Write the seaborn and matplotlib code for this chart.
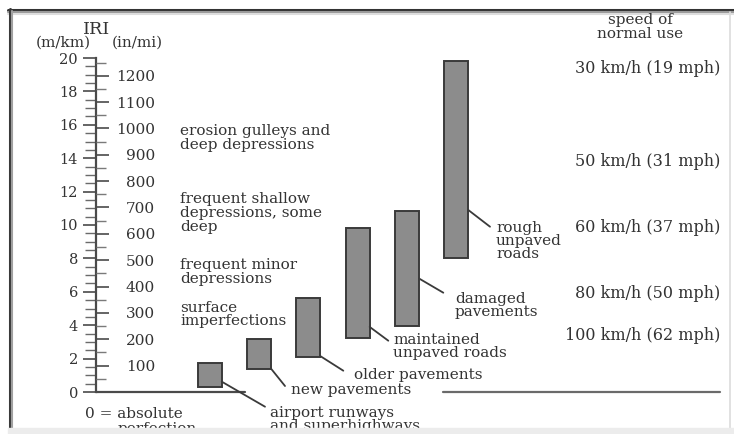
import numpy as np
import pandas as pd
import matplotlib
matplotlib.use("Agg")
import matplotlib.pyplot as plt
import matplotlib.transforms as mtransforms
from matplotlib.lines import Line2D
import seaborn as sns

# ---------------- data ----------------
surfaces = ["airport runways and superhighways", "new pavements", "older pavements",
            "maintained unpaved roads", "damaged pavements", "rough unpaved roads"]
iri_low = [0.3, 1.4, 2.1, 3.25, 3.95, 8.0]
iri_high = [1.75, 3.2, 5.65, 9.85, 10.85, 19.8]
surface_label_lines = [["airport runways", "and superhighways"], ["new pavements"],
                       ["older pavements"], ["maintained", "unpaved roads"],
                       ["damaged", "pavements"], ["rough", "unpaved", "roads"]]
mkm_major = list(range(0, 21, 2))
mkm_minor = list(np.arange(0, 20.01, 0.5))
inmi_major = list(range(100, 1201, 100))
inmi_minor = list(range(50, 1251, 100))
IN_MI_PER_M_KM = 63.36
condition_lines = [["erosion gulleys and", "deep depressions"],
                   ["frequent shallow", "depressions, some", "deep"],
                   ["frequent minor", "depressions"],
                   ["surface", "imperfections"]]
speed_labels = ["30 km/h (19 mph)", "50 km/h (31 mph)", "60 km/h (37 mph)",
                "80 km/h (50 mph)", "100 km/h (62 mph)"]
speed_iri = [19.4, 13.8, 9.85, 5.9, 3.4]

# ---------------- layout ----------------
W, H = 734, 434
TXT = "#333333"
FONT = "DejaVu Serif"
FS = 11

sns.set_style("white")
plt.rcParams["font.family"] = [FONT, "DejaVu Sans"]

fig = plt.figure(figsize=(W / 100, H / 100), dpi=100)
fig.patch.set_facecolor("white")

def fx(px):
    return px / W

def fy(py):
    return 1 - py / H

ax_l, ax_r, ax_t, ax_b = 96, 720, 58, 392
ax = fig.add_axes([fx(ax_l), fy(ax_b), (ax_r - ax_l) / W, (ax_b - ax_t) / H])
ax.set_facecolor("none")

df = pd.DataFrame({"surface": surfaces, "low": iri_low, "high": iri_high})
bw = 0.487
sns.barplot(data=df, x="surface", y="high", order=surfaces, color="#8c8c8c",
            saturation=1, width=bw, edgecolor="#3a3a3a", linewidth=1.4, ax=ax)
for patch, lo, hi in zip(ax.patches, iri_low, iri_high):
    patch.set_y(lo)
    patch.set_height(hi - lo)

ax.set_xlim(-2.306, 10.349)
ax.set_ylim(0, 20)
ax.set_xlabel("")
ax.set_ylabel("")
ax.set_xticks([])
for s in ["top", "right", "bottom"]:
    ax.spines[s].set_visible(False)
ax.spines["left"].set_color("#4a4a4a")
ax.spines["left"].set_linewidth(1.6)

# baseline with a gap
ax.axhline(0, xmin=0, xmax=(245 - ax_l) / (ax_r - ax_l), color="#4a4a4a", lw=1.6, clip_on=False)
ax.axhline(0, xmin=(443 - ax_l) / (ax_r - ax_l), xmax=1, color="#6a6a6a", lw=1.6, clip_on=False)

# m/km axis (left, outward ticks)
ax.set_yticks(mkm_major)
ax.set_yticks(mkm_minor, minor=True)
ax.set_yticklabels([str(v) for v in mkm_major])
ax.tick_params(axis="y", which="major", direction="out", length=9.4, width=1.2,
               color="#4a4a4a", pad=3.6, labelsize=10.5, labelcolor=TXT)
ax.tick_params(axis="y", which="minor", direction="out", length=8.0, width=1.0,
               color="#6a6a6a", left=True)

# in/mi axis (inward ticks on the same line)
ax2 = ax.twinx()
ax2.set_ylim(0, 20 * IN_MI_PER_M_KM)
ax2.set_xlim(ax.get_xlim())
for s in ax2.spines.values():
    s.set_visible(False)
ax2.yaxis.set_ticks_position("left")
ax2.set_yticks(inmi_major)
ax2.set_yticks(inmi_minor, minor=True)
ax2.set_yticklabels([str(v) for v in inmi_major])
ax2.tick_params(axis="y", which="major", direction="in", length=9.4, width=1.2,
                color="#4a4a4a", left=True, right=False, labelleft=True, labelright=False,
                pad=-42.5, labelsize=11, labelcolor=TXT)
ax2.tick_params(axis="y", which="minor", direction="in", length=7.5, width=1.0,
                color="#7a7a7a", left=True, right=False)
ax2.set_xticks([])

# axis titles
fig.text(fx(97), fy(29), "IRI", ha="center", va="center", fontsize=12.5, color=TXT)
fig.text(fx(63), fy(43), "(m/km)", ha="center", va="center", fontsize=11, color=TXT)
fig.text(fx(137), fy(43), "(in/mi)", ha="center", va="center", fontsize=11, color=TXT)
fig.text(fx(85), fy(414), "0 = absolute", ha="left", va="center", fontsize=FS, color=TXT)
fig.text(fx(118), fy(428.5), "perfection", ha="left", va="center", fontsize=FS, color=TXT)

# condition descriptions
cond_y = [131, 199, 265, 307.5]
for lines, y0 in zip(condition_lines, cond_y):
    for k, line in enumerate(lines):
        fig.text(fx(180), fy(y0 + 14 * k), line, ha="left", va="center",
                 fontsize=FS, color=TXT)

# surface labels with leaders
attach_y = [0.62, 1.4, 2.15, 3.9, 6.8, 10.9]
leader_end = [(265, 406.7), (285, 386), (343.3, 370.7), (388.3, 340.7), (443.3, 292.7), (490, 226.7)]
label_pos = [(270, 412.7), (290.7, 390), (354, 375), (393.3, 340), (455, 299), (496, 227.7)]
for i, (lines, ya, (ex, ey), (lx, ly)) in enumerate(zip(surface_label_lines, attach_y,
                                                          leader_end, label_pos)):
    ax.annotate("", xy=(i + bw / 2, ya), xycoords="data",
                xytext=(ex, H - ey), textcoords="figure pixels",
                arrowprops=dict(arrowstyle="-", color="#3a3a3a", lw=1.3,
                                shrinkA=0, shrinkB=0))
    for k, line in enumerate(lines):
        fig.text(fx(lx), fy(ly + 13 * k), line, ha="left", va="center",
                 fontsize=FS, color=TXT)

# speed of normal use
fig.text(fx(640), fy(20), "speed of", ha="center", va="center", fontsize=11, color=TXT)
fig.text(fx(640), fy(34), "normal use", ha="center", va="center", fontsize=11, color=TXT)
trans = mtransforms.blended_transform_factory(ax.transAxes, ax.transData)
for lab, yv in zip(speed_labels, speed_iri):
    ax.text(1.0, yv, lab, transform=trans, ha="right", va="center",
            fontsize=11.5, color=TXT, clip_on=False)

# picture frame
fig.add_artist(Line2D([fx(8), fx(734)], [fy(9.8), fy(9.8)], transform=fig.transFigure,
                      color="#333333", lw=2.2))
fig.add_artist(Line2D([fx(8), fx(734)], [fy(12), fy(12)], transform=fig.transFigure,
                      color="#9a9a9a", lw=1.5))
fig.add_artist(Line2D([fx(8), fx(734)], [fy(14), fy(14)], transform=fig.transFigure,
                      color="#dddddd", lw=1.5))
fig.add_artist(Line2D([fx(9.5), fx(9.5)], [fy(9), fy(434)], transform=fig.transFigure,
                      color="#3a3a3a", lw=2.2))
fig.add_artist(Line2D([fx(12), fx(12)], [fy(11), fy(434)], transform=fig.transFigure,
                      color="#a0a0a0", lw=1.5))
fig.add_artist(Line2D([fx(730), fx(730)], [fy(12), fy(428)], transform=fig.transFigure,
                      color="#dcdcdc", lw=1.2))
fig.add_artist(plt.Rectangle((fx(8), 0), 1, fy(428), transform=fig.transFigure,
                             color="#ececec", zorder=10))

fig.savefig("out.png", dpi=100)
